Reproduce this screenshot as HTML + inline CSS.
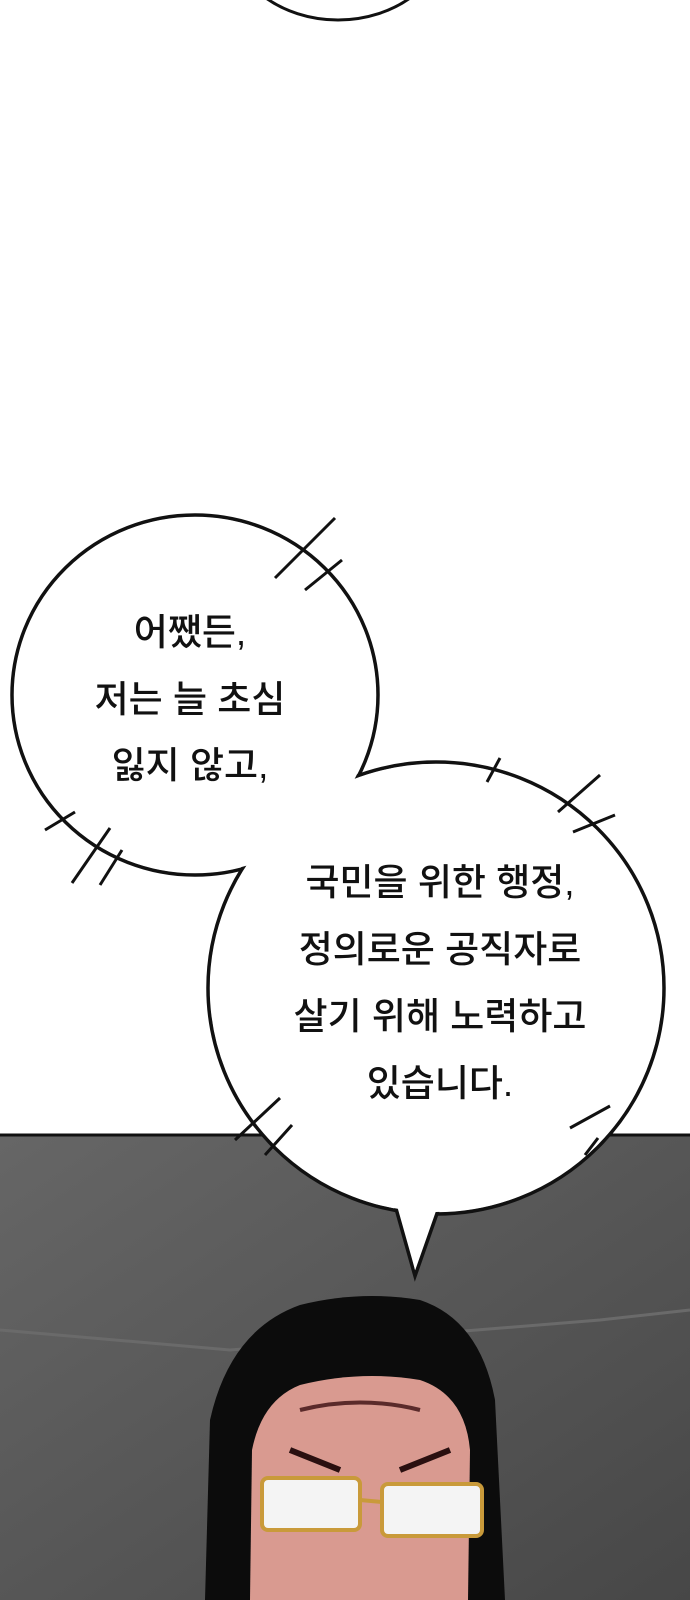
<!DOCTYPE html>
<html><head><meta charset="utf-8"><style>
html,body{margin:0;padding:0;background:#fff;}
svg{display:block}
text{font-family:"Liberation Sans","Noto Sans CJK KR","NanumGothic",sans-serif;font-size:37px;fill:#111;text-anchor:middle;font-weight:500}
</style></head><body>
<svg width="690" height="1600" viewBox="0 0 690 1600">
<!-- bottom panel -->
<rect x="0" y="1135" width="690" height="465" fill="#5a5a5a"/>
<rect x="0" y="1135" width="690" height="465" fill="url(#g)"/>
<defs><linearGradient id="g" x1="0" y1="0" x2="1" y2="1"><stop offset="0" stop-color="#666"/><stop offset="1" stop-color="#474747"/></linearGradient></defs>
<line x1="0" y1="1135" x2="690" y2="1135" stroke="#111" stroke-width="3"/>
<polyline points="0,1330 230,1350 600,1320 690,1310" fill="none" stroke="#6a6a6a" stroke-width="3"/>
<!-- character -->
<path d="M205,1600 L210,1420 Q230,1330 300,1305 Q360,1290 420,1300 Q480,1320 495,1400 L505,1600 Z" fill="#0c0c0c"/>
<path d="M250,1600 L252,1450 Q262,1400 300,1385 Q360,1370 420,1380 Q465,1395 470,1450 L468,1600 Z" fill="#d99a90"/>
<path d="M300,1410 Q360,1395 420,1410" stroke="#5a2a2a" stroke-width="4" fill="none"/>
<path d="M290,1450 L340,1470 M400,1470 L450,1450" stroke="#2a1010" stroke-width="6"/>
<rect x="262" y="1478" width="98" height="52" rx="6" fill="#f4f4f4" stroke="#c99a3a" stroke-width="4"/>
<rect x="382" y="1484" width="100" height="52" rx="6" fill="#f4f4f4" stroke="#c99a3a" stroke-width="4"/>
<line x1="360" y1="1500" x2="382" y2="1502" stroke="#c99a3a" stroke-width="4"/>
<!-- top bubble fragment -->
<ellipse cx="338" cy="-70" rx="110" ry="90" fill="#fff" stroke="#111" stroke-width="3"/>
<!-- speech bubbles -->
<g stroke="#111" stroke-width="3.5" fill="#fff">
<ellipse cx="195" cy="695" rx="183" ry="180"/>
<ellipse cx="436" cy="988" rx="228" ry="226"/>
<path d="M395,1205 L415,1276 L440,1205 Z"/>
</g>
<g fill="#fff">
<ellipse cx="195" cy="695" rx="181" ry="178"/>
<ellipse cx="436" cy="988" rx="226" ry="224"/>
<path d="M398,1200 L415,1270 L437,1200 Z"/>
</g>
<!-- tick marks -->
<g stroke="#111" stroke-width="3">
<line x1="275" y1="578" x2="335" y2="518"/><line x1="305" y1="590" x2="342" y2="560"/>
<line x1="45" y1="830" x2="75" y2="812"/><line x1="72" y1="883" x2="110" y2="828"/><line x1="100" y1="885" x2="122" y2="850"/>
<line x1="487" y1="782" x2="500" y2="758"/><line x1="558" y1="812" x2="600" y2="775"/><line x1="573" y1="832" x2="615" y2="815"/>
<line x1="235" y1="1140" x2="280" y2="1098"/><line x1="265" y1="1155" x2="292" y2="1125"/>
<line x1="570" y1="1128" x2="610" y2="1106"/><line x1="585" y1="1155" x2="598" y2="1138"/>
</g>
<text x="190" y="645">어쨌든,</text>
<text x="190" y="712">저는 늘 초심</text>
<text x="190" y="778">잃지 않고,</text>
<text x="440" y="895">국민을 위한 행정,</text>
<text x="440" y="962">정의로운 공직자로</text>
<text x="440" y="1029">살기 위해 노력하고</text>
<text x="440" y="1096">있습니다.</text>
</svg>
</body></html>
